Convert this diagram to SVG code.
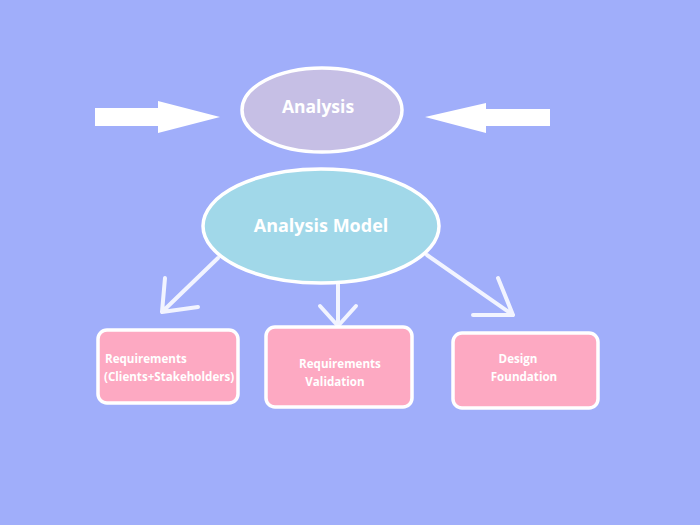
<svg xmlns="http://www.w3.org/2000/svg" width="700" height="525" viewBox="0 0 700 525">
<style>
.t{font-family:"Open Sans","Liberation Sans",sans-serif;font-weight:bold;fill:#ffffff}
.box{fill:#FDA9C2;stroke:#ffffff;stroke-width:3.5}
.con{stroke:#F2F4FF;stroke-width:4;fill:none;stroke-linecap:round;stroke-linejoin:round}
</style>
<rect width="700" height="525" fill="#A0AEFA"/>
<g id="arrow-left"><polygon points="95,108 158,108 158,101 220,117 158,133 158,126 95,126" fill="#ffffff"/></g>
<g id="arrow-right"><polygon points="550,109 486,109 486,103 425,117 486,133 486,126 550,126" fill="#ffffff"/></g>
<g id="analysis">
<ellipse cx="322" cy="110" rx="80" ry="42" fill="#C6BFE5" stroke="#ffffff" stroke-width="3.5"/>
<text class="t" x="318" y="113" font-size="17.5" text-anchor="middle">Analysis</text>
</g>
<g id="connectors">
<path class="con" d="M218,258 L162,312 M165,278 L162,312 L198,307"/>
<path class="con" d="M338,283 L338,326 M320,306 L338,326 L356,306"/>
<path class="con" d="M427,255 L513,315 M498,278 L513,315 L473,315"/>
</g>
<g id="analysis-model">
<ellipse cx="321" cy="226" rx="118" ry="57" fill="#A1D8E9" stroke="#ffffff" stroke-width="3.5"/>
<text class="t" x="321" y="232" font-size="18" text-anchor="middle">Analysis Model</text>
</g>
<g id="req">
<rect class="box" x="98" y="330" width="140" height="73" rx="9"/>
<text class="t" x="105" y="363" font-size="11.6">Requirements</text>
<text class="t" x="104" y="381" font-size="11.6">(Clients+Stakeholders)</text>
</g>
<g id="req-val">
<rect class="box" x="266" y="327" width="146" height="80" rx="9"/>
<text class="t" x="340" y="368" font-size="11.6" text-anchor="middle">Requirements</text>
<text class="t" x="335" y="386" font-size="11.6" text-anchor="middle">Validation</text>
</g>
<g id="design">
<rect class="box" x="453" y="333" width="145" height="75" rx="9"/>
<text class="t" x="518" y="363" font-size="11.6" text-anchor="middle">Design</text>
<text class="t" x="524" y="381" font-size="11.6" text-anchor="middle">Foundation</text>
</g>
</svg>
